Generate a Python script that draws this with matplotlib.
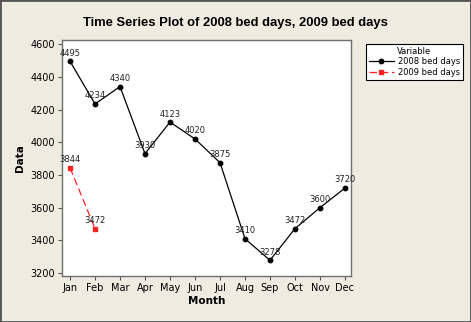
import matplotlib
matplotlib.use("Agg")
import matplotlib.pyplot as plt
from matplotlib.patches import Rectangle

months = ["Jan", "Feb", "Mar", "Apr", "May", "Jun", "Jul", "Aug", "Sep", "Oct", "Nov", "Dec"]
bed_2008 = [4495, 4234, 4340, 3930, 4123, 4020, 3875, 3410, 3278, 3472, 3600, 3720]
bed_2009 = [3844, 3472]
yticks = [3200, 3400, 3600, 3800, 4000, 4200, 4400, 4600]

plt.rcParams['font.family'] = ['DejaVu Sans']
bg = "#EFEBE0"
fig = plt.figure(figsize=(4.71, 3.22), dpi=100, facecolor=bg)
W, H = 471, 322
ax = fig.add_axes([62 / W, 1 - 276 / H, (351 - 62) / W, (276 - 40) / H])
ax.set_facecolor("white")

x08 = list(range(len(bed_2008)))
x09 = list(range(len(bed_2009)))
ax.plot(x08, bed_2008, color="black", lw=0.9, marker="o", ms=3.2, label="2008 bed days")
ax.plot(x09, bed_2009, color="#FF2020", lw=0.9, ls=(0, (6, 3)), marker="s", ms=3.2,
        label="2009 bed days")

for x, v in zip(x08, bed_2008):
    ax.text(x, v + 22, str(v), ha="center", va="bottom", fontsize=6, color="#222222")
for x, v in zip(x09, bed_2009):
    ax.text(x, v + 22, str(v), ha="center", va="bottom", fontsize=6, color="#222222")

ax.set_xlim(-0.32, 11.24)
ax.set_ylim(3182, 4625)
ax.set_xticks(x08)
ax.set_xticklabels(months, fontsize=7)
ax.set_yticks(yticks)
ax.set_yticklabels([str(t) for t in yticks], fontsize=7)
ax.tick_params(length=3, width=0.8, color="#555555", pad=2)
for s in ax.spines.values():
    s.set_color("#707070")
    s.set_linewidth(1.0)

ax.set_xlabel("Month", fontsize=7.5, fontweight="bold", labelpad=2)
ax.set_ylabel("Data", fontsize=7.5, fontweight="bold", labelpad=4)
fig.text(235 / W, 1 - 23 / H, "Time Series Plot of 2008 bed days, 2009 bed days",
         ha="center", va="center", fontsize=9.4, fontweight="bold",
         family=["Liberation Sans", "DejaVu Sans"])

leg = fig.legend(loc="upper left", bbox_to_anchor=(362 / W, 1 - 40 / H), fontsize=6,
                 title="Variable", title_fontsize=6, frameon=True, fancybox=False,
                 edgecolor="black", framealpha=1, handlelength=3, borderpad=0.3,
                 labelspacing=0.2, handletextpad=0.5)
leg.get_frame().set_linewidth(0.8)

fig.patches.append(Rectangle((0, 0), 1, 1, transform=fig.transFigure, fill=False,
                             edgecolor="#555555", lw=2))
fig.savefig("out.png", dpi=100, facecolor=bg)
